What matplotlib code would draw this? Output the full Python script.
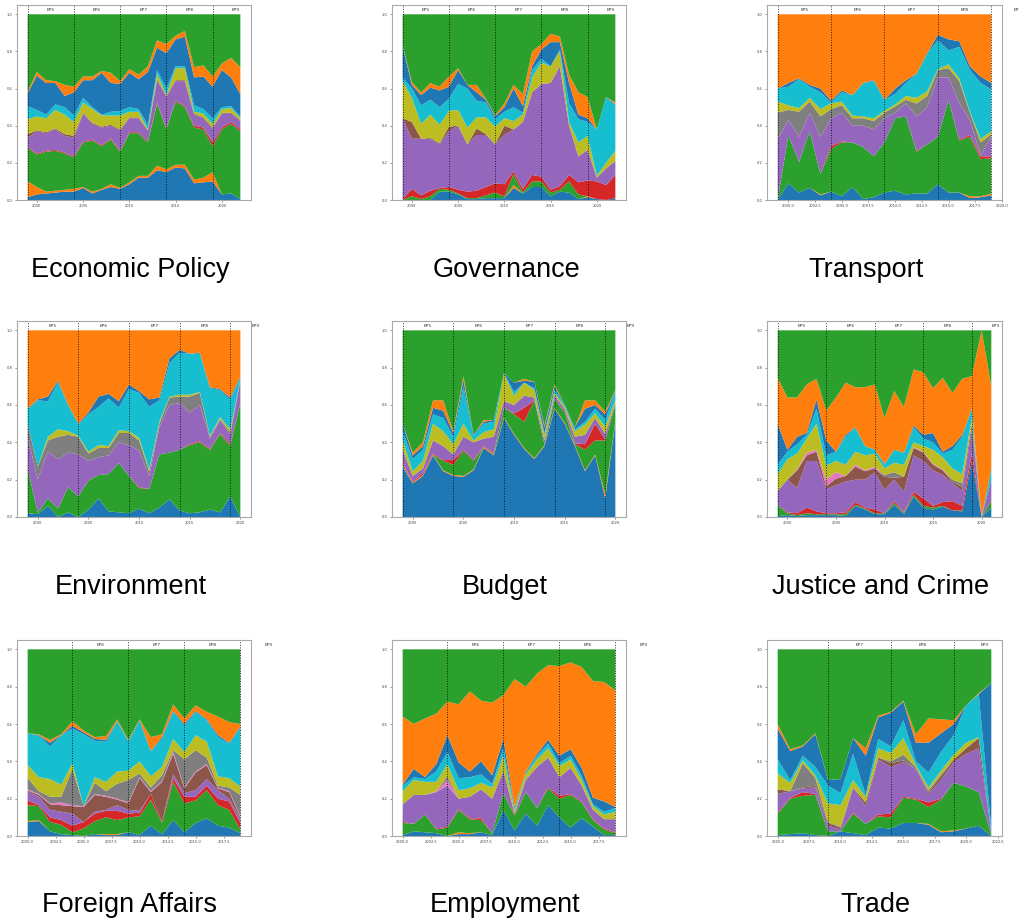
import numpy as np
import matplotlib
matplotlib.use("Agg")
import matplotlib.pyplot as plt
from matplotlib.ticker import MultipleLocator, ScalarFormatter

# European Parliament terms: start year of each term and its label
ep_starts = [1999, 2004, 2009, 2014, 2019]
ep_labels = ["EP5", "EP6", "EP7", "EP8", "EP9"]

# Each panel: years and the cumulative share reached at the top of each layer
# (layers listed bottom to top, with their colour; the top layer fills up to 1)
econ_years = list(range(1999, 2023))
econ_layers = [
    ("C0", [0.015,0.03,0.035,0.04,0.045,0.045,0.065,0.035,0.055,0.07,0.06,0.085,0.12,0.12,0.16,0.15,0.175,0.17,0.09,0.095,0.1,0.03,0.035,0.005]),
    ("C1", [0.1,0.07,0.045,0.05,0.055,0.06,0.07,0.045,0.06,0.085,0.065,0.095,0.13,0.13,0.185,0.165,0.19,0.19,0.11,0.12,0.15,0.03,0.035,0.005]),
    ("C2", [0.28,0.245,0.26,0.265,0.25,0.23,0.31,0.32,0.29,0.325,0.26,0.36,0.36,0.31,0.52,0.38,0.53,0.5,0.39,0.38,0.29,0.38,0.41,0.37]),
    ("C3", [0.285,0.25,0.265,0.27,0.255,0.235,0.315,0.325,0.295,0.33,0.265,0.365,0.365,0.315,0.525,0.385,0.535,0.505,0.4,0.39,0.31,0.39,0.42,0.38]),
    ("C4", [0.335,0.37,0.36,0.38,0.345,0.335,0.465,0.41,0.39,0.4,0.375,0.44,0.44,0.37,0.645,0.555,0.64,0.64,0.46,0.44,0.385,0.465,0.465,0.425]),
    ("C5", [0.355,0.375,0.365,0.385,0.355,0.345,0.47,0.415,0.395,0.405,0.38,0.445,0.445,0.375,0.65,0.56,0.645,0.645,0.465,0.445,0.39,0.47,0.47,0.43]),
    ("C8", [0.435,0.45,0.44,0.485,0.46,0.42,0.525,0.49,0.455,0.455,0.455,0.475,0.475,0.38,0.68,0.565,0.71,0.71,0.475,0.465,0.41,0.49,0.495,0.44]),
    ("C9", [0.505,0.485,0.46,0.515,0.5,0.455,0.55,0.5,0.46,0.475,0.48,0.5,0.49,0.405,0.7,0.6,0.72,0.72,0.51,0.49,0.44,0.5,0.505,0.45]),
    ("C0", [0.575,0.67,0.63,0.63,0.56,0.58,0.645,0.645,0.685,0.63,0.625,0.685,0.65,0.69,0.82,0.79,0.865,0.88,0.66,0.665,0.61,0.7,0.66,0.57]),
    ("C1", [0.585,0.69,0.645,0.64,0.62,0.61,0.665,0.665,0.695,0.685,0.64,0.705,0.675,0.72,0.86,0.84,0.885,0.91,0.715,0.725,0.665,0.735,0.765,0.715]),
]

gov_years = list(range(1999, 2023))
gov_layers = [
    ("C0", [0.0,0.0,0.0,0.0,0.045,0.045,0.03,0.005,0.005,0.01,0.01,0.01,0.065,0.035,0.07,0.07,0.02,0.045,0.04,0.005,0.015,0.005,0.0,0.01]),
    ("C1", [0.0,0.0,0.0,0.0,0.045,0.045,0.03,0.005,0.005,0.01,0.01,0.01,0.08,0.035,0.07,0.07,0.02,0.045,0.04,0.005,0.02,0.005,0.0,0.01]),
    ("C2", [0.0,0.02,0.005,0.02,0.06,0.055,0.035,0.01,0.01,0.025,0.04,0.02,0.14,0.04,0.1,0.1,0.04,0.055,0.1,0.03,0.02,0.005,0.0,0.01]),
    ("C3", [0.005,0.06,0.025,0.05,0.065,0.07,0.055,0.045,0.05,0.07,0.09,0.085,0.155,0.06,0.135,0.125,0.055,0.075,0.135,0.095,0.105,0.1,0.08,0.135]),
    ("C4", [0.44,0.33,0.33,0.33,0.3,0.37,0.4,0.3,0.35,0.35,0.3,0.35,0.38,0.42,0.58,0.625,0.63,0.72,0.4,0.235,0.27,0.12,0.17,0.21]),
    ("C5", [0.44,0.42,0.33,0.335,0.305,0.395,0.4,0.3,0.385,0.355,0.3,0.4,0.38,0.42,0.58,0.625,0.63,0.72,0.4,0.235,0.27,0.12,0.17,0.21]),
    ("C8", [0.64,0.55,0.41,0.46,0.405,0.48,0.485,0.39,0.445,0.445,0.395,0.44,0.425,0.46,0.66,0.74,0.72,0.8,0.42,0.31,0.345,0.13,0.2,0.265]),
    ("C9", [0.66,0.6,0.51,0.54,0.5,0.545,0.625,0.6,0.535,0.525,0.435,0.475,0.5,0.47,0.7,0.76,0.72,0.81,0.52,0.435,0.42,0.38,0.555,0.51]),
    ("C0", [0.83,0.62,0.565,0.605,0.59,0.61,0.7,0.62,0.58,0.54,0.45,0.5,0.6,0.505,0.72,0.81,0.85,0.85,0.63,0.46,0.44,0.38,0.555,0.515]),
    ("C1", [0.835,0.635,0.58,0.63,0.61,0.665,0.71,0.62,0.62,0.545,0.455,0.52,0.62,0.57,0.8,0.84,0.895,0.88,0.675,0.58,0.555,0.38,0.555,0.525]),
]

transport_years = list(range(1999, 2020))
transport_layers = [
    ("C0", [0.0,0.09,0.04,0.065,0.025,0.045,0.02,0.07,0.005,0.015,0.04,0.05,0.03,0.035,0.035,0.085,0.04,0.04,0.01,0.015,0.025]),
    ("C1", [0.0,0.09,0.04,0.065,0.03,0.045,0.02,0.07,0.005,0.015,0.04,0.05,0.03,0.035,0.035,0.085,0.04,0.04,0.02,0.02,0.035]),
    ("C2", [0.0,0.35,0.205,0.37,0.14,0.275,0.31,0.31,0.285,0.235,0.31,0.44,0.45,0.26,0.3,0.34,0.54,0.32,0.34,0.22,0.225]),
    ("C3", [0.0,0.35,0.205,0.37,0.14,0.29,0.315,0.31,0.285,0.235,0.31,0.44,0.45,0.265,0.3,0.34,0.54,0.325,0.35,0.235,0.235]),
    ("C4", [0.33,0.43,0.34,0.47,0.34,0.44,0.47,0.4,0.4,0.38,0.44,0.47,0.52,0.45,0.5,0.66,0.66,0.52,0.43,0.24,0.34]),
    ("C7", [0.47,0.485,0.475,0.53,0.45,0.49,0.51,0.44,0.44,0.425,0.47,0.505,0.54,0.52,0.56,0.7,0.71,0.64,0.47,0.31,0.355]),
    ("C8", [0.53,0.51,0.495,0.55,0.49,0.52,0.53,0.455,0.45,0.44,0.48,0.515,0.56,0.55,0.585,0.705,0.73,0.655,0.475,0.33,0.37]),
    ("C9", [0.6,0.61,0.65,0.61,0.58,0.525,0.58,0.565,0.63,0.64,0.54,0.57,0.63,0.68,0.79,0.86,0.805,0.825,0.7,0.63,0.595]),
    ("C0", [0.6,0.63,0.655,0.62,0.6,0.535,0.59,0.565,0.63,0.645,0.54,0.6,0.645,0.68,0.79,0.89,0.865,0.855,0.72,0.665,0.63]),
]

env_years = list(range(1999, 2021))
env_layers = [
    ("C0", [0.02,0.015,0.06,0.0,0.025,0.0,0.04,0.1,0.03,0.025,0.02,0.045,0.02,0.05,0.095,0.035,0.02,0.025,0.04,0.025,0.11,0.0]),
    ("C2", [0.26,0.025,0.1,0.045,0.16,0.11,0.195,0.225,0.23,0.29,0.22,0.155,0.15,0.335,0.345,0.36,0.385,0.4,0.36,0.445,0.38,0.61]),
    ("C3", [0.26,0.025,0.1,0.045,0.16,0.11,0.195,0.225,0.23,0.29,0.22,0.16,0.15,0.335,0.345,0.36,0.39,0.405,0.365,0.45,0.39,0.61]),
    ("C4", [0.43,0.2,0.35,0.31,0.345,0.335,0.3,0.32,0.33,0.4,0.385,0.355,0.22,0.48,0.6,0.61,0.56,0.6,0.42,0.52,0.44,0.73]),
    ("C7", [0.5,0.27,0.41,0.43,0.44,0.43,0.34,0.37,0.37,0.45,0.45,0.41,0.245,0.5,0.64,0.645,0.645,0.665,0.43,0.525,0.455,0.73]),
    ("C8", [0.5,0.27,0.43,0.47,0.46,0.435,0.35,0.385,0.38,0.465,0.46,0.425,0.255,0.51,0.645,0.655,0.655,0.67,0.435,0.535,0.47,0.735]),
    ("C9", [0.58,0.625,0.62,0.72,0.6,0.495,0.55,0.59,0.635,0.585,0.685,0.665,0.59,0.625,0.825,0.88,0.875,0.875,0.69,0.68,0.63,0.75]),
    ("C0", [0.58,0.63,0.645,0.73,0.6,0.5,0.56,0.645,0.66,0.62,0.71,0.675,0.63,0.64,0.85,0.895,0.875,0.88,0.695,0.685,0.64,0.75]),
]

budget_years = list(range(1999, 2021))
budget_layers = [
    ("C0", [0.27,0.18,0.22,0.33,0.245,0.22,0.215,0.25,0.37,0.33,0.53,0.44,0.365,0.31,0.38,0.58,0.5,0.38,0.245,0.33,0.1,0.51]),
    ("C1", [0.275,0.185,0.225,0.335,0.25,0.225,0.22,0.255,0.375,0.335,0.535,0.445,0.37,0.315,0.385,0.585,0.505,0.385,0.25,0.335,0.12,0.515]),
    ("C2", [0.28,0.185,0.225,0.335,0.3,0.28,0.355,0.3,0.375,0.34,0.585,0.55,0.51,0.625,0.39,0.63,0.56,0.39,0.36,0.41,0.41,0.6]),
    ("C3", [0.29,0.19,0.235,0.34,0.305,0.305,0.36,0.305,0.38,0.345,0.585,0.555,0.585,0.625,0.39,0.63,0.565,0.395,0.39,0.5,0.415,0.6]),
    ("C4", [0.36,0.22,0.26,0.41,0.38,0.335,0.43,0.4,0.42,0.43,0.62,0.6,0.65,0.64,0.41,0.65,0.58,0.43,0.44,0.53,0.445,0.61]),
    ("C8", [0.41,0.245,0.3,0.5,0.46,0.39,0.5,0.41,0.455,0.47,0.77,0.65,0.72,0.68,0.44,0.665,0.59,0.46,0.495,0.555,0.485,0.625]),
    ("C9", [0.46,0.31,0.36,0.55,0.53,0.43,0.7,0.435,0.5,0.51,0.77,0.67,0.72,0.69,0.45,0.68,0.6,0.47,0.51,0.58,0.52,0.67]),
    ("C0", [0.5,0.33,0.38,0.585,0.57,0.45,0.735,0.44,0.51,0.52,0.77,0.72,0.73,0.725,0.48,0.7,0.6,0.48,0.58,0.6,0.55,0.675]),
    ("C1", [0.5,0.345,0.4,0.625,0.625,0.46,0.755,0.44,0.52,0.52,0.77,0.72,0.74,0.725,0.49,0.71,0.6,0.48,0.625,0.625,0.565,0.68]),
]

justice_years = list(range(1999, 2022))
justice_layers = [
    ("C0", [0.005,0.01,0.005,0.01,0.01,0.01,0.01,0.005,0.06,0.04,0.015,0.015,0.065,0.015,0.11,0.05,0.04,0.055,0.035,0.03,0.3,0.0,0.05]),
    ("C2", [0.065,0.02,0.01,0.02,0.015,0.015,0.015,0.015,0.065,0.045,0.02,0.02,0.075,0.02,0.12,0.06,0.05,0.06,0.035,0.035,0.3,0.0,0.085]),
    ("C3", [0.065,0.025,0.02,0.05,0.03,0.02,0.02,0.025,0.08,0.05,0.04,0.02,0.085,0.025,0.135,0.1,0.06,0.08,0.085,0.06,0.34,0.0,0.09]),
    ("C4", [0.14,0.2,0.155,0.3,0.3,0.15,0.17,0.19,0.2,0.2,0.24,0.145,0.2,0.135,0.33,0.3,0.25,0.225,0.18,0.14,0.47,0.0,0.2]),
    ("C5", [0.14,0.2,0.25,0.33,0.35,0.165,0.205,0.22,0.27,0.245,0.26,0.215,0.21,0.215,0.37,0.345,0.28,0.25,0.19,0.16,0.5,0.0,0.2]),
    ("C6", [0.14,0.2,0.255,0.345,0.36,0.2,0.24,0.22,0.28,0.25,0.27,0.215,0.21,0.215,0.375,0.35,0.285,0.255,0.19,0.16,0.5,0.0,0.2]),
    ("C7", [0.14,0.2,0.255,0.345,0.36,0.2,0.24,0.22,0.28,0.25,0.27,0.225,0.24,0.215,0.375,0.35,0.285,0.255,0.2,0.18,0.5,0.0,0.2]),
    ("C8", [0.23,0.31,0.34,0.42,0.5,0.275,0.3,0.28,0.35,0.33,0.34,0.26,0.29,0.28,0.4,0.38,0.36,0.32,0.26,0.23,0.53,0.0,0.2]),
    ("C9", [0.28,0.35,0.39,0.44,0.58,0.33,0.35,0.43,0.48,0.38,0.36,0.28,0.36,0.345,0.48,0.42,0.4,0.34,0.36,0.43,0.58,0.0,0.25]),
    ("C0", [0.5,0.36,0.43,0.45,0.63,0.41,0.35,0.44,0.48,0.38,0.36,0.285,0.36,0.345,0.49,0.44,0.45,0.35,0.38,0.44,0.58,0.0,0.26]),
    ("C1", [0.745,0.64,0.64,0.71,0.74,0.57,0.64,0.72,0.695,0.695,0.71,0.53,0.675,0.59,0.79,0.775,0.69,0.745,0.665,0.74,0.755,1.0,0.7]),
]

foreign_years = list(range(2000, 2020))
foreign_layers = [
    ("C0", [0.075,0.08,0.025,0.01,0.005,0.0,0.01,0.005,0.005,0.02,0.005,0.055,0.01,0.085,0.02,0.07,0.095,0.055,0.045,0.015]),
    ("C1", [0.08,0.085,0.025,0.01,0.005,0.0,0.01,0.01,0.01,0.02,0.005,0.055,0.01,0.085,0.02,0.07,0.095,0.055,0.045,0.015]),
    ("C2", [0.165,0.16,0.075,0.06,0.02,0.04,0.08,0.1,0.085,0.1,0.105,0.195,0.07,0.29,0.175,0.19,0.245,0.165,0.14,0.035]),
    ("C3", [0.19,0.165,0.1,0.085,0.055,0.075,0.12,0.135,0.135,0.12,0.125,0.225,0.075,0.31,0.21,0.21,0.27,0.2,0.185,0.07]),
    ("C4", [0.24,0.21,0.14,0.13,0.12,0.075,0.13,0.14,0.165,0.14,0.135,0.225,0.075,0.33,0.23,0.245,0.305,0.245,0.2,0.09]),
    ("C5", [0.245,0.22,0.17,0.165,0.16,0.155,0.22,0.21,0.195,0.175,0.31,0.235,0.29,0.44,0.255,0.34,0.38,0.255,0.235,0.1]),
    ("C6", [0.25,0.225,0.175,0.18,0.165,0.16,0.225,0.215,0.2,0.18,0.315,0.24,0.295,0.45,0.26,0.345,0.385,0.26,0.24,0.105]),
    ("C7", [0.31,0.24,0.21,0.21,0.36,0.16,0.285,0.24,0.28,0.3,0.335,0.26,0.325,0.46,0.41,0.46,0.42,0.27,0.26,0.22]),
    ("C8", [0.38,0.315,0.305,0.275,0.39,0.16,0.315,0.29,0.345,0.35,0.4,0.32,0.37,0.52,0.45,0.54,0.505,0.32,0.31,0.265]),
    ("C9", [0.55,0.54,0.48,0.54,0.575,0.545,0.51,0.505,0.615,0.505,0.62,0.455,0.52,0.665,0.59,0.665,0.62,0.53,0.495,0.58]),
    ("C0", [0.55,0.54,0.5,0.54,0.59,0.555,0.52,0.515,0.615,0.51,0.62,0.455,0.53,0.67,0.6,0.67,0.625,0.54,0.5,0.585]),
    ("C1", [0.55,0.545,0.515,0.545,0.615,0.565,0.53,0.535,0.625,0.515,0.625,0.53,0.545,0.705,0.63,0.7,0.665,0.64,0.61,0.6]),
]

employ_years = list(range(2000, 2020))
employ_layers = [
    ("C0", [0.005,0.025,0.02,0.015,0.0,0.01,0.01,0.02,0.005,0.14,0.03,0.12,0.055,0.165,0.1,0.045,0.095,0.05,0.005,0.005]),
    ("C1", [0.005,0.025,0.02,0.015,0.0,0.02,0.015,0.02,0.005,0.14,0.03,0.12,0.055,0.165,0.1,0.045,0.095,0.05,0.005,0.005]),
    ("C2", [0.07,0.065,0.115,0.035,0.045,0.14,0.09,0.085,0.015,0.23,0.11,0.235,0.15,0.255,0.2,0.22,0.18,0.085,0.035,0.015]),
    ("C3", [0.075,0.065,0.115,0.04,0.05,0.145,0.095,0.095,0.015,0.23,0.115,0.235,0.15,0.26,0.215,0.225,0.185,0.09,0.04,0.02]),
    ("C4", [0.17,0.22,0.22,0.235,0.27,0.2,0.21,0.25,0.2,0.35,0.12,0.3,0.37,0.42,0.315,0.365,0.27,0.14,0.09,0.09]),
    ("C6", [0.17,0.22,0.22,0.24,0.3,0.2,0.21,0.25,0.2,0.35,0.12,0.3,0.37,0.42,0.315,0.365,0.27,0.14,0.09,0.09]),
    ("C7", [0.17,0.22,0.22,0.24,0.32,0.2,0.21,0.25,0.2,0.35,0.12,0.3,0.37,0.42,0.315,0.365,0.27,0.14,0.09,0.09]),
    ("C8", [0.24,0.3,0.29,0.29,0.385,0.245,0.255,0.285,0.26,0.43,0.135,0.33,0.41,0.47,0.375,0.41,0.3,0.16,0.115,0.13]),
    ("C9", [0.27,0.315,0.305,0.345,0.45,0.31,0.315,0.33,0.28,0.47,0.145,0.34,0.43,0.495,0.39,0.43,0.32,0.17,0.13,0.15]),
    ("C0", [0.275,0.36,0.315,0.385,0.54,0.395,0.345,0.4,0.325,0.52,0.155,0.345,0.44,0.515,0.43,0.465,0.365,0.205,0.185,0.155]),
    ("C1", [0.64,0.6,0.63,0.655,0.72,0.705,0.775,0.725,0.715,0.755,0.84,0.8,0.87,0.915,0.91,0.93,0.905,0.83,0.825,0.78]),
]

trade_years = list(range(2005, 2023))
trade_layers = [
    ("C0", [0.005,0.01,0.015,0.005,0.0,0.025,0.015,0.005,0.045,0.04,0.07,0.07,0.06,0.02,0.025,0.04,0.055,0.0]),
    ("C1", [0.005,0.01,0.015,0.005,0.0,0.025,0.015,0.005,0.045,0.04,0.07,0.07,0.065,0.025,0.03,0.04,0.055,0.0]),
    ("C2", [0.12,0.2,0.215,0.22,0.025,0.025,0.12,0.065,0.105,0.1,0.205,0.195,0.155,0.195,0.285,0.265,0.235,0.005]),
    ("C3", [0.125,0.205,0.235,0.225,0.025,0.025,0.125,0.065,0.115,0.12,0.21,0.2,0.18,0.2,0.285,0.265,0.235,0.005]),
    ("C4", [0.225,0.24,0.255,0.26,0.055,0.035,0.26,0.16,0.41,0.37,0.395,0.36,0.225,0.3,0.395,0.44,0.47,0.02]),
    ("C5", [0.25,0.24,0.26,0.27,0.07,0.045,0.26,0.18,0.42,0.39,0.405,0.36,0.235,0.32,0.41,0.47,0.525,0.02]),
    ("C7", [0.25,0.24,0.39,0.31,0.075,0.05,0.26,0.18,0.42,0.4,0.435,0.37,0.245,0.33,0.41,0.47,0.525,0.02]),
    ("C8", [0.335,0.285,0.405,0.325,0.175,0.165,0.3,0.21,0.47,0.445,0.525,0.38,0.26,0.35,0.435,0.5,0.53,0.02]),
    ("C9", [0.41,0.3,0.43,0.37,0.27,0.23,0.44,0.22,0.52,0.48,0.62,0.4,0.34,0.45,0.54,0.7,0.76,0.04]),
    ("C0", [0.575,0.455,0.48,0.545,0.3,0.305,0.525,0.43,0.635,0.66,0.72,0.5,0.5,0.55,0.6,0.7,0.76,0.82]),
    ("C1", [0.6,0.465,0.485,0.55,0.3,0.305,0.525,0.47,0.645,0.665,0.725,0.545,0.63,0.625,0.62,0.7,0.765,0.82]),
]

# layout: title, years, layers, colour of the top layer, x tick step
panels = [
    ("Economic Policy", econ_years, econ_layers, "C2", 5),
    ("Governance", gov_years, gov_layers, "C2", 5),
    ("Transport", transport_years, transport_layers, "C1", 2.5),
    ("Environment", env_years, env_layers, "C1", 5),
    ("Budget", budget_years, budget_layers, "C2", 5),
    ("Justice and Crime", justice_years, justice_layers, "C2", 5),
    ("Foreign Affairs", foreign_years, foreign_layers, "C2", 2.5),
    ("Employment", employ_years, employ_layers, "C2", 2.5),
    ("Trade", trade_years, trade_layers, "C2", 2.5),
]

W, H = 1019, 924
col_x = [(17, 251), (392, 626), (767, 1002)]
row_y = [(5, 200), (321, 517), (640, 836)]
title_x = [130, 506, 866, 131, 505, 881, 130, 505, 875]
title_y = [270, 587, 905]

fig = plt.figure(figsize=(W / 100, H / 100), dpi=100)

for i, (title, years, layers, top_colour, step) in enumerate(panels):
    r, c = divmod(i, 3)
    x0, x1 = col_x[c]
    y0, y1 = row_y[r]
    ax = fig.add_axes([x0 / W, 1 - y1 / H, (x1 - x0) / W, (y1 - y0) / H])

    tops = np.maximum.accumulate(np.array([t for _, t in layers]), axis=0)
    n = len(years)
    bounds = np.vstack([np.zeros(n), tops, np.ones(n)])
    shares = np.clip(np.diff(bounds, axis=0), 0, None)
    colours = [col for col, _ in layers] + [top_colour]
    ax.stackplot(years, shares, colors=colours, linewidth=0)

    for start, lab in zip(ep_starts, ep_labels):
        if years[0] <= start <= years[-1]:
            ax.axvline(start, color="k", ls=":", lw=0.7, alpha=0.8)
            ax.text(start + 2.5, 1.022, lab, ha="center", va="center",
                    fontsize=3.2, color="#333333", clip_on=False)

    ax.xaxis.set_major_locator(MultipleLocator(step))
    fmt = ScalarFormatter(useOffset=False)
    ax.xaxis.set_major_formatter(fmt)
    ax.yaxis.set_major_locator(MultipleLocator(0.2))
    ax.tick_params(labelsize=2.6, length=1.5, width=0.4, pad=1.5,
                   colors="#444444")
    for sp in ax.spines.values():
        sp.set_color("#aaaaaa")
        sp.set_linewidth(0.8)

    fig.text(title_x[i] / W, 1 - title_y[r] / H, title, ha="center",
             va="center", fontsize=19.5, family="Liberation Sans")

fig.savefig("out.png", dpi=100)
